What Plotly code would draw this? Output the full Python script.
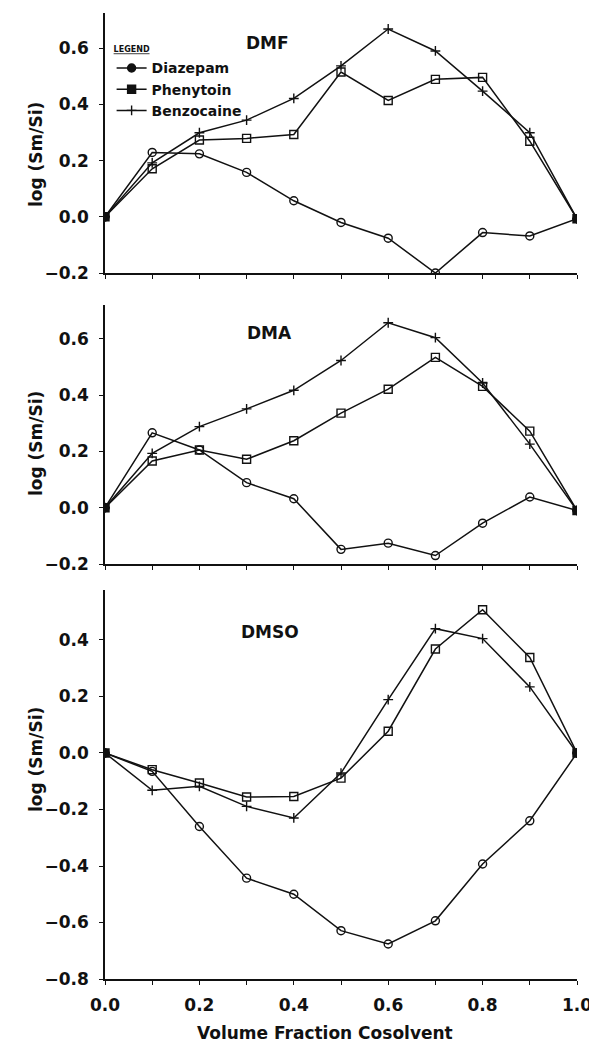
import plotly.graph_objects as go

# ---------------- data ----------------
x_frac = [0.0, 0.1, 0.2, 0.3, 0.4, 0.5, 0.6, 0.7, 0.8, 0.9, 1.0]
series_names = ["Diazepam", "Phenytoin", "Benzocaine"]
panel_names = ["DMF", "DMA", "DMSO"]

dmf_diazepam = [0.0, 0.229, 0.224, 0.158, 0.057, -0.020, -0.076, -0.200, -0.056, -0.068, -0.007]
dmf_phenytoin = [0.0, 0.171, 0.273, 0.279, 0.293, 0.515, 0.414, 0.489, 0.496, 0.269, -0.007]
dmf_benzocaine = [0.0, 0.192, 0.299, 0.344, 0.421, 0.537, 0.668, 0.590, 0.447, 0.299, -0.007]

dma_diazepam = [0.0, 0.266, 0.205, 0.089, 0.032, -0.148, -0.126, -0.170, -0.055, 0.038, -0.010]
dma_phenytoin = [0.0, 0.166, 0.205, 0.172, 0.238, 0.336, 0.421, 0.534, 0.431, 0.272, -0.010]
dma_benzocaine = [0.0, 0.193, 0.288, 0.351, 0.417, 0.523, 0.657, 0.604, 0.443, 0.226, -0.010]

dmso_diazepam = [0.0, -0.065, -0.260, -0.443, -0.500, -0.629, -0.676, -0.594, -0.393, -0.240, 0.0]
dmso_phenytoin = [0.0, -0.059, -0.106, -0.156, -0.154, -0.089, 0.077, 0.368, 0.507, 0.338, 0.0]
dmso_benzocaine = [0.0, -0.132, -0.118, -0.189, -0.230, -0.071, 0.189, 0.440, 0.405, 0.234, 0.0]

panel_data = [
    [dmf_diazepam, dmf_phenytoin, dmf_benzocaine],
    [dma_diazepam, dma_phenytoin, dma_benzocaine],
    [dmso_diazepam, dmso_phenytoin, dmso_benzocaine],
]

y_ticks_top = [-0.2, 0.0, 0.2, 0.4, 0.6]
y_ticks_bottom = [-0.8, -0.6, -0.4, -0.2, 0.0, 0.2, 0.4]
x_tick_labels = ["0.0", "", "0.2", "", "0.4", "", "0.6", "", "0.8", "", "1.0"]

# ---------------- style ----------------
FONT = "DejaVu Sans"
INK = "#111111"
open_sym = ["circle-open", "square-open", "cross-thin-open"]
fill_sym = ["circle", "square", "cross-thin-open"]
msize = [8, 8, 7]

y_domains = [[0.7308, 1.0], [0.4296, 0.6977], [0.0, 0.4027]]
y_ranges = [[-0.2, 0.725], [-0.2, 0.72], [-0.8, 0.577]]
title_pos = [(0.344, 0.885), (0.348, 0.892), (0.35, 0.892)]
ylab_pos = [0.853, 0.5538, 0.2267]

fig = go.Figure()

for p in range(3):
    xa = "x" if p == 0 else f"x{p+1}"
    ya = "y" if p == 0 else f"y{p+1}"
    for s in range(3):
        vals = panel_data[p][s]
        n = len(vals)
        syms = [fill_sym[s] if (i == 0 or i == n - 1) else open_sym[s] for i in range(n)]
        fig.add_trace(go.Scatter(
            x=x_frac, y=vals, xaxis=xa, yaxis=ya,
            mode="lines+markers",
            name=series_names[s],
            showlegend=(p == 0),
            line=dict(color=INK, width=1.5),
            marker=dict(symbol=syms, size=msize[s], color=INK,
                        line=dict(color=INK, width=1.4)),
        ))

# page body has an 8px margin, so the figure is 8px smaller than the window
layout = dict(
    width=589, height=1036,
    margin=dict(l=97, r=13, t=5, b=65),
    paper_bgcolor="white", plot_bgcolor="white",
    font=dict(family=FONT, color=INK),
    showlegend=True,
    legend=dict(
        x=0.014, y=0.970, xanchor="left", yanchor="top",
        bgcolor="rgba(0,0,0,0)",
        font=dict(family=FONT, size=14, color=INK, weight="bold"),
        title=dict(text="<u>LEGEND</u>", font=dict(family=FONT, size=8, color=INK, weight="bold")),
        itemwidth=30, tracegroupgap=0,
    ),
)

annotations = []
for p in range(3):
    xk = "xaxis" if p == 0 else f"xaxis{p+1}"
    yk = "yaxis" if p == 0 else f"yaxis{p+1}"
    ya = "y" if p == 0 else f"y{p+1}"
    xa = "x" if p == 0 else f"x{p+1}"
    last = (p == 2)
    layout[xk] = dict(
        domain=[0, 1], anchor=ya, range=[0, 1.0],
        tickmode="array", tickvals=x_frac, ticktext=x_tick_labels,
        showticklabels=last,
        ticks="outside", ticklen=4, tickwidth=1.2, tickcolor=INK,
        showline=True, linecolor=INK, linewidth=1.5,
        showgrid=False, zeroline=False,
        tickfont=dict(family=FONT, size=17, color=INK, weight="bold"),
        ticklabelstandoff=6, ticklabeloverflow="allow",
    )
    yt = y_ticks_bottom if last else y_ticks_top
    layout[yk] = dict(
        domain=y_domains[p], anchor=xa, range=y_ranges[p],
        tickmode="array", tickvals=yt, tickformat=".1f",
        ticks="outside", ticklen=4, tickwidth=1.2, tickcolor=INK,
        showline=True, linecolor=INK, linewidth=1.5,
        showgrid=False, zeroline=False,
        tickfont=dict(family=FONT, size=17, color=INK, weight="bold"),
        ticklabelstandoff=7,
    )
    # inward overlay axes so the tick marks cross the axis lines
    oxk = f"xaxis{p+4}"
    oyk = f"yaxis{p+4}"
    layout[oxk] = dict(
        overlaying=xa, anchor=ya, range=[0, 1.0],
        tickmode="array", tickvals=x_frac, showticklabels=False,
        ticks="inside", ticklen=4, tickwidth=1.2, tickcolor=INK,
        showline=False, showgrid=False, zeroline=False,
    )
    layout[oyk] = dict(
        overlaying=ya, anchor=xa, range=y_ranges[p], side="left",
        tickmode="array", tickvals=yt, showticklabels=False,
        ticks="inside", ticklen=4, tickwidth=1.2, tickcolor=INK,
        showline=False, showgrid=False, zeroline=False,
    )
    tx, ty = title_pos[p]
    annotations.append(dict(
        text=panel_names[p], xref=f"{xa} domain", yref=f"{ya} domain",
        x=tx, y=ty, xanchor="center", yanchor="middle", showarrow=False,
        font=dict(family=FONT, size=17, color=INK, weight="bold"),
    ))
    annotations.append(dict(
        text="log (Sm/Si)", xref="paper", yref="paper",
        x=-0.146, y=ylab_pos[p], xanchor="center", yanchor="middle",
        textangle=-90, showarrow=False,
        font=dict(family=FONT, size=17, color=INK, weight="bold"),
    ))

annotations.append(dict(
    text="Volume Fraction Cosolvent", xref="paper", yref="paper",
    x=0.466, y=-0.0559, xanchor="center", yanchor="middle", showarrow=False,
    font=dict(family=FONT, size=17, color=INK, weight="bold"),
))
layout["annotations"] = annotations

fig.update_layout(**layout)
fig.write_html("out.html")
